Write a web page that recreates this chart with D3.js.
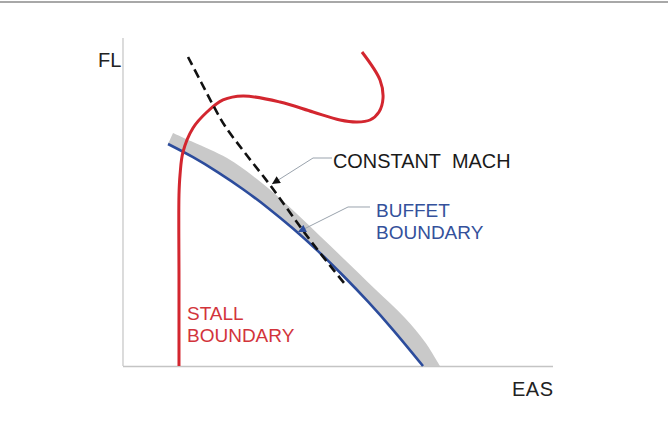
<!DOCTYPE html>
<html>
<head>
<meta charset="utf-8">
<script src="https://cdn.jsdelivr.net/npm/d3@7"></script>
<style>
  html, body { margin: 0; padding: 0; background: #fff; }
  svg { display: block; }
  text { font-family: "Liberation Sans", Arial, sans-serif; }
</style>
</head>
<body>
<svg id="chart" width="668" height="429"></svg>
<script>
// ---- Data (notional units: EAS 0-100, FL 0-100) ----
const stallEAS = [13.02, 13.02, 13.02, 13.26, 13.95, 16.28, 19.53, 23.26, 27.91, 36.51, 44.19, 50.47, 54.42, 57.44, 59.53, 60.47, 59.77, 55.58];
const stallFL  = [0, 26.22, 52.13, 58.23, 65.24, 72.56, 77.44, 81.10, 82.32, 80.49, 77.44, 75.00, 74.39, 75.00, 77.44, 81.71, 87.20, 95.73];

const buffetEAS = [10.47, 16.28, 22.09, 27.91, 33.72, 39.53, 45.35, 51.16, 56.98, 62.79, 69.77];
const buffetFL  = [67.68, 63.66, 59.05, 53.90, 48.17, 41.89, 35.03, 27.59, 19.60, 11.04, 0];

const bandEAS = [11.63, 16.28, 24.19, 30.23, 35.35, 40.47, 45.81, 51.63, 58.60, 65.58, 70.23, 73.72];
const bandFL  = [71.04, 68.29, 63.41, 57.93, 52.44, 46.34, 39.63, 32.32, 23.48, 14.63, 7.32, 0];

const machEAS = [15.12, 18.14, 20.93, 23.72, 28.37, 34.19, 43.49, 51.40];
const machFL  = [94.21, 86.59, 79.57, 73.17, 64.94, 55.18, 38.41, 25.30];

const axisLabels = { x: "EAS", y: "FL" };
const labelMach = ["CONSTANT\u00a0\u00a0MACH"];
const labelBuffet = ["BUFFET", "BOUNDARY"];
const labelStall = ["STALL", "BOUNDARY"];

// ---- Layout ----
const svg = d3.select("#chart");
const x = d3.scaleLinear().domain([0, 100]).range([123, 553]);
const y = d3.scaleLinear().domain([0, 100]).range([366, 38]);

const zip = (a, b) => a.map((v, i) => [v, b[i]]);
const line = d3.line().x(d => x(d[0])).y(d => y(d[1])).curve(d3.curveCatmullRom.alpha(0.5));
const straight = d3.line().x(d => x(d[0])).y(d => y(d[1]));

const colRed = "#d3262f", colBlue = "#2c4c9c", colBlueText = "#34519b", colGray = "#c9c9c9";

// top border line
svg.append("line").attr("x1", 0).attr("x2", 668).attr("y1", 2).attr("y2", 2)
  .attr("stroke", "#a8a8a8").attr("stroke-width", 2);

// axes
svg.append("line").attr("x1", x(0)).attr("x2", x(0)).attr("y1", y(0)).attr("y2", y(100))
  .attr("stroke", "#c4c4c4").attr("stroke-width", 1.2);
svg.append("line").attr("x1", x(0)).attr("x2", x(100)).attr("y1", y(0) + 0.5).attr("y2", y(0) + 0.5)
  .attr("stroke", "#c4c4c4").attr("stroke-width", 1.5);

svg.append("text").attr("x", 98).attr("y", 67).attr("font-size", 20).attr("fill", "#222").text(axisLabels.y);
svg.append("text").attr("x", 512).attr("y", 396).attr("font-size", 20).attr("fill", "#222")
  .attr("letter-spacing", 0.5).text(axisLabels.x);

// markers
const defs = svg.append("defs");
function marker(id, color) {
  defs.append("marker").attr("id", id).attr("viewBox", "0 0 10 10")
    .attr("refX", 10).attr("refY", 5).attr("markerWidth", 9).attr("markerHeight", 8)
    .attr("markerUnits", "userSpaceOnUse").attr("orient", "auto")
    .append("path").attr("d", "M0,0 L10,5 L0,10 Z").attr("fill", color);
}
marker("arrBlack", "#111");
marker("arrBlue", colBlue);

// gray buffet band
const upper = zip(bandEAS, bandFL);
const lower = zip(buffetEAS, buffetFL).slice().reverse();
const bandPath = line(upper) + "L" + line(lower).slice(1) + "Z";
svg.append("path").attr("d", bandPath).attr("fill", colGray).attr("stroke", "none");

// buffet boundary line
svg.append("path").attr("d", line(zip(buffetEAS, buffetFL)))
  .attr("fill", "none").attr("stroke", colBlue).attr("stroke-width", 2.6);

// stall boundary
svg.append("path").attr("d", line(zip(stallEAS, stallFL)))
  .attr("fill", "none").attr("stroke", colRed).attr("stroke-width", 3);

// constant mach dashed
svg.append("path").attr("d", line(zip(machEAS, machFL)))
  .attr("fill", "none").attr("stroke", "#111").attr("stroke-width", 2.6)
  .attr("stroke-dasharray", "9,5");

// leaders
const leaderMach = [[48.60, 63.41], [44.19, 63.41], [34.65, 55.49]];
const leaderBuffet = [[57.44, 48.48], [52.33, 48.48], [40.70, 40.85]];
svg.append("path").attr("d", straight(leaderMach)).attr("fill", "none")
  .attr("stroke", "#9aa3ad").attr("stroke-width", 1).attr("marker-end", "url(#arrBlack)");
svg.append("path").attr("d", straight(leaderBuffet)).attr("fill", "none")
  .attr("stroke", "#9aa3ad").attr("stroke-width", 1).attr("marker-end", "url(#arrBlue)");

// labels
function multiText(lines, px, py, lh, size, color) {
  const t = svg.append("text").attr("x", px).attr("y", py).attr("font-size", size).attr("fill", color);
  lines.forEach((s, i) => t.append("tspan").attr("x", px).attr("y", py + i * lh).text(s));
}
multiText(labelMach, 333, 167.5, 0, 19.9, "#1a1a1a");
multiText(labelBuffet, 376, 216.5, 22, 19, colBlueText);
multiText(labelStall, 187, 320, 21.7, 19, "#d2343b");
</script>
</body>
</html>
